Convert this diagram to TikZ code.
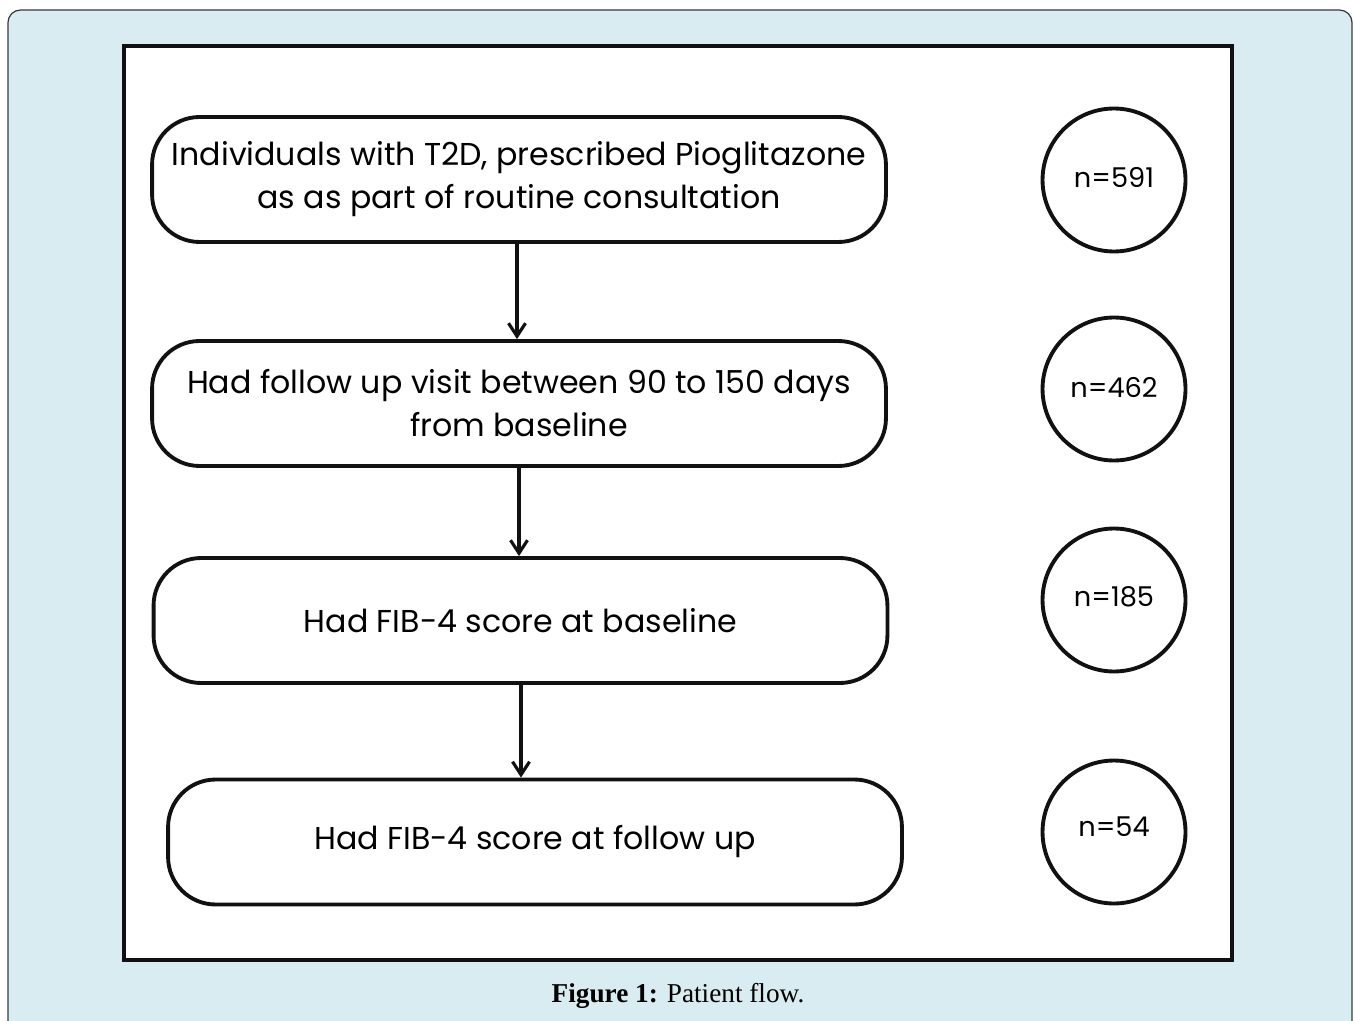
\documentclass[tikz,border=0pt]{standalone}
\usepackage{fontspec}
\usetikzlibrary{arrows.meta, positioning}
\newfontfamily\flowfont{Poppins}
\newfontfamily\capfont{Liberation Serif}
\definecolor{panelBlue}{HTML}{D8ECF1}
\definecolor{panelEdge}{HTML}{3A3A3A}
\definecolor{flowInk}{HTML}{111111}
\tikzset{
  flowArrow/.style={-{Straight Barb[length=2.6mm, width=3.4mm, line width=1.8pt]}, flowInk, line width=1.9pt},
  flowBox/.style={rectangle, rounded corners=0.95cm, draw=flowInk, fill=white,
                  line width=2.2pt, align=center, font=\flowfont\fontsize{18}{24.5}\selectfont,
                  minimum width=14.68cm, minimum height=2.5cm, inner sep=0pt},
  countCircle/.style={circle, draw=flowInk, fill=white, line width=2.2pt,
                      minimum size=2.86cm, inner sep=0pt},
  countText/.style={font=\flowfont\fontsize{15.5}{18}\selectfont, inner sep=0pt},
}

\begin{document}
\begin{tikzpicture}[x=0.02cm, y=-0.02cm]
  \useasboundingbox (0,0) rectangle (1354,1020);
  % outer panel and frame
  \begin{scope}
    \clip (0,0) rectangle (1354,1020);
    \draw[panelEdge, fill=panelBlue, line width=0.7pt, rounded corners=0.25cm] (8,10) rectangle (1352,1060);
  \end{scope}
  \draw[flowInk, fill=white, line width=1.8pt] (124,46) rectangle (1232,960);

  % flow boxes
  \node[flowBox] (start) at (519,179.5) {Individuals with T2D, prescribed Pioglitazone\\as as part of routine consultation};
  \node[flowBox] (visit) at (519,403.5) {Had follow up visit between 90 to 150 days\\from baseline};
  \node[flowBox] (base) at (520.5,620.5) {Had FIB-4 score at baseline};
  \node[flowBox] (follow) at (535,842) {Had FIB-4 score at follow up};

  % counts
  \node[countCircle] (c1) at (1114,180) {};
  \node[countCircle] (c2) at (1114,389) {};
  \node[countCircle] (c3) at (1114,600) {};
  \node[countCircle] (c4) at (1114,832) {};
  \node[countText] at (1114,177) {n=591};
  \node[countText] at (1114,387) {n=462};
  \node[countText] at (1114,597) {n=185};
  \node[countText] at (1114,827) {n=54};

  \draw[flowArrow] (start.south -| 517,0) -- (visit.north -| 517,0);
  \draw[flowArrow] (visit.south -| 519,0) -- (base.north -| 519,0);
  \draw[flowArrow] (base.south -| 521,0) -- (follow.north -| 521,0);

  \node[font=\capfont\fontsize{15.5}{18}\selectfont] (cap) at (678,996) {\textbf{Figure 1:} Patient flow.};
\end{tikzpicture}
\end{document}
